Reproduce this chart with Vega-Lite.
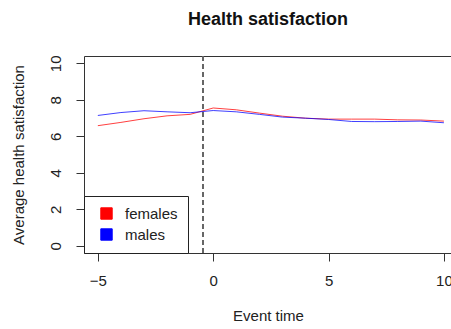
{
  "$schema": "https://vega.github.io/schema/vega-lite/v6.json",
  "width": 368,
  "height": 197,
  "autosize": {"type": "none"},
  "padding": {"left": 84, "top": 56, "right": 0, "bottom": 76},
  "background": "white",
  "config": {
    "view": {"stroke": "#333", "strokeWidth": 1},
    "font": "Liberation Sans",
    "axis": {"grid": false, "domain": false, "tickColor": "#333", "tickSize": 8, "labelFont": "Liberation Sans", "labelFontSize": 15, "labelColor": "#222", "titleFont": "Liberation Sans", "titleFontSize": 15, "titleFontWeight": "normal", "titleColor": "#222"}
  },
  "title": {"text": "Health satisfaction", "font": "Liberation Sans", "fontSize": 18, "fontWeight": "bold", "color": "#111", "anchor": "middle", "offset": 26},
  "data": {
    "values": [
      {"t": -5, "group": "females", "v": 6.58}, {"t": -4, "group": "females", "v": 6.76}, {"t": -3, "group": "females", "v": 6.96},
      {"t": -2, "group": "females", "v": 7.12}, {"t": -1, "group": "females", "v": 7.2}, {"t": 0, "group": "females", "v": 7.55},
      {"t": 1, "group": "females", "v": 7.45}, {"t": 2, "group": "females", "v": 7.27}, {"t": 3, "group": "females", "v": 7.1},
      {"t": 4, "group": "females", "v": 6.99}, {"t": 5, "group": "females", "v": 6.94}, {"t": 6, "group": "females", "v": 6.94},
      {"t": 7, "group": "females", "v": 6.94}, {"t": 8, "group": "females", "v": 6.9}, {"t": 9, "group": "females", "v": 6.89},
      {"t": 10, "group": "females", "v": 6.83},
      {"t": -5, "group": "males", "v": 7.14}, {"t": -4, "group": "males", "v": 7.3}, {"t": -3, "group": "males", "v": 7.4},
      {"t": -2, "group": "males", "v": 7.34}, {"t": -1, "group": "males", "v": 7.29}, {"t": 0, "group": "males", "v": 7.41},
      {"t": 1, "group": "males", "v": 7.34}, {"t": 2, "group": "males", "v": 7.2}, {"t": 3, "group": "males", "v": 7.05},
      {"t": 4, "group": "males", "v": 6.99}, {"t": 5, "group": "males", "v": 6.92}, {"t": 6, "group": "males", "v": 6.81},
      {"t": 7, "group": "males", "v": 6.8}, {"t": 8, "group": "males", "v": 6.81}, {"t": 9, "group": "males", "v": 6.83},
      {"t": 10, "group": "males", "v": 6.74}
    ]
  },
  "layer": [
    {
      "mark": {"type": "rule", "color": "#666", "strokeDash": [5, 3], "strokeWidth": 1},
      "encoding": {"x": {"datum": -0.45, "type": "quantitative"}}
    },
    {
      "mark": {"type": "line", "strokeWidth": 1, "strokeOpacity": 0.75, "clip": true},
      "encoding": {
        "x": {"field": "t", "type": "quantitative", "scale": {"domain": [-5.6, 10.35], "nice": false, "zero": false}, "axis": {"values": [-5, 0, 5, 10], "title": "Event time", "titlePadding": 20, "labelPadding": 12}},
        "y": {"field": "v", "type": "quantitative", "scale": {"domain": [-0.4, 10.4], "nice": false}, "axis": {"values": [0, 2, 4, 6, 8, 10], "title": "Average health satisfaction", "labelAngle": -90, "labelAlign": "center", "labelBaseline": "bottom", "labelPadding": 13, "titlePadding": 22}},
        "color": {"field": "group", "type": "nominal", "scale": {"domain": ["females", "males"], "range": ["#ff0000", "#0000ff"]},
          "legend": {"title": null, "orient": "bottom-left", "offset": 0, "symbolType": "square", "symbolSize": 130, "symbolStrokeWidth": 1, "symbolOffset": 5, "labelFontSize": 15, "labelColor": "#222", "labelOffset": 11, "rowPadding": 4, "padding": 10, "strokeColor": "#222", "fillColor": "white",
            "encode": {"symbols": {"update": {"fill": {"scale": "color", "field": "value"}, "fillOpacity": {"value": 1}, "opacity": {"value": 1}, "stroke": {"value": "#111"}, "strokeOpacity": {"value": 1}}}}}}
      }
    }
  ]
}
